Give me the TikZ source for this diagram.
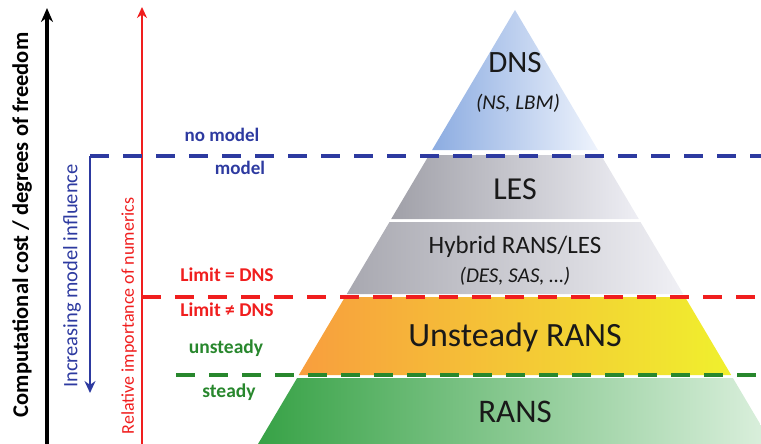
\documentclass[tikz,border=0pt]{standalone}
\usepackage{fontspec}
\setmainfont{Carlito}
\usetikzlibrary{arrows.meta}
\definecolor{mblue}{RGB}{45,58,160}
\definecolor{mred}{RGB}{240,30,30}
\definecolor{mgreen}{RGB}{40,135,45}
\definecolor{ink}{RGB}{25,25,25}
\tikzset{
  side/.style={font=\fontsize{19.5}{22}\selectfont\bfseries},
  axis/.style={line width=3.4pt,-{Stealth[length=14pt,width=12pt]}},
  cut/.style={line width=3.6pt,dash pattern=on 19pt off 14pt},
  layer/.style={font=\fontsize{31}{34}\selectfont,text=ink},
  sub/.style={font=\fontsize{21}{24}\selectfont\itshape,text=ink}
}
\begin{document}
\begin{tikzpicture}[x=1pt,y=-1pt]
    \useasboundingbox (0,0) rectangle (761,444);
    \begin{scope}
    \clip (0,0) rectangle (761,444);
    % pyramid layers
    \shade[left color={rgb,255:red,140;green,172;blue,225},right color={rgb,255:red,238;green,243;blue,252}]
        (515,10) -- (597.9,150) -- (432.1,150) -- cycle;
    \shade[left color={rgb,255:red,160;green,160;blue,168},right color={rgb,255:red,238;green,238;blue,244}]
        (429.1,155) -- (600.9,155) -- (638.8,219) -- (391.2,219) -- cycle;
    \shade[left color={rgb,255:red,168;green,168;blue,176},right color={rgb,255:red,240;green,240;blue,245}]
        (389.5,222) -- (640.5,222) -- (683.2,294) -- (346.8,294) -- cycle;
    \shade[left color={rgb,255:red,248;green,158;blue,62},right color={rgb,255:red,240;green,240;blue,45}]
        (345,297) -- (685,297) -- (731.2,375) -- (298.8,375) -- cycle;
    \shade[left color={rgb,255:red,55;green,162;blue,70},right color={rgb,255:red,220;green,240;blue,222}]
        (297.1,378) -- (732.9,378) -- (772,444) -- (258,444) -- cycle;
    \end{scope}

    \node[layer] at (515,63) (dns) {DNS};
    \node[sub] at (518,103) (dnssub) {(NS, LBM)};
    \node[layer,font=\fontsize{32}{35}\selectfont] at (515,189) (les) {LES};
    \node[font=\fontsize{25}{28}\selectfont,text=ink] at (515,247) (hyb) {Hybrid RANS/LES};
    \node[sub] at (515,276) (hybsub) {(DES, SAS, \dots)};
    \node[font=\fontsize{34}{38}\selectfont,text=ink] at (515,337) (urans) {Unsteady RANS};
    \node[layer,font=\fontsize{33}{36}\selectfont] at (515,412) (rans) {RANS};

    % axes
    \coordinate (kbot) at (47,444);
    \coordinate (ktop) at (47,8);
    \coordinate (rbot) at (142,444);
    \coordinate (rtop) at (142,7);
    \coordinate (bcorner) at (90,156);
    \coordinate (bend) at (90,393);
    \coordinate (bright) at (761,156);
    \coordinate (rcorner) at (142,297);
    \coordinate (rright) at (761,297);
    \coordinate (gleft) at (176,375);
    \coordinate (gright) at (761,375);

    \draw[axis,black] (kbot) -- (ktop);
    \draw[mred,line width=2pt,-{Stealth[length=11pt,width=10pt]}] (rbot) -- (rtop);
    \draw[mblue,line width=2.6pt,-{Stealth[length=12pt,width=11pt]}] (bcorner) -- (bend);
    \draw[cut,mblue] (bcorner) -- (bright);
    \draw[cut,mred] (rcorner) -- (rright);
    \draw[cut,mgreen,line width=3.2pt] (gleft) -- (gright);

    \node[rotate=90,font=\fontsize{22.5}{25}\selectfont\bfseries] at (22,225) (cost) {Computational cost / degrees of freedom};
    \node[rotate=90,font=\fontsize{20.5}{23}\selectfont,text=mblue] at (72,276) (infl) {Increasing model influence};
    \node[rotate=90,font=\fontsize{18}{21}\selectfont,text=mred] at (129,316) (num) {Relative importance of numerics};

    \node[side,text=mblue,font=\fontsize{19}{22}\selectfont\bfseries] at (222,135) (nomodel) {no model};
    \node[side,text=mblue,font=\fontsize{19}{22}\selectfont\bfseries] at (240,168) (model) {model};
    \node[side,text=mred] at (227,275) (limeq) {Limit = DNS};
    \node[side,text=mred] at (227,310) (limne) {Limit ≠ DNS};
    \node[side,text=mgreen] at (226,348) (unst) {unsteady};
    \node[side,text=mgreen] at (229,392) (st) {steady};
\end{tikzpicture}
\end{document}
